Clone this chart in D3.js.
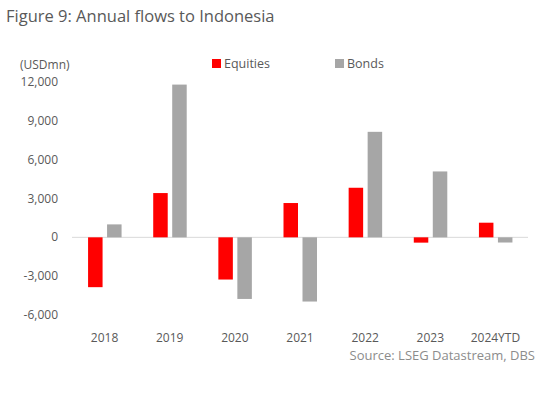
<!DOCTYPE html>
<html>
<head>
<meta charset="utf-8">
<script src="https://cdn.jsdelivr.net/npm/d3@7"></script>
<style>
  body { margin: 0; background: #fff; }
  text { font-family: "Open Sans", sans-serif; }
</style>
</head>
<body>
<svg id="chart" width="558" height="394"></svg>
<script>
const years = ["2018", "2019", "2020", "2021", "2022", "2023", "2024YTD"];
const equities = [-3850, 3420, -3260, 2650, 3830, -410, 1130];
const bonds = [1000, 11800, -4760, -4960, 8150, 5090, -400];
const yTicks = [-6000, -3000, 0, 3000, 6000, 9000, 12000];

const svg = d3.select("#chart");

const x = d3.scaleBand().domain(years).range([72, 528]);
const y = d3.scaleLinear().domain([-6000, 12000]).range([315, 82]);

const barW = 14.5;

// title
svg.append("text")
  .attr("x", 6)
  .attr("y", 22)
  .attr("font-size", "16.5px")
  .attr("fill", "#595959")
  .text("Figure 9: Annual flows to Indonesia");

svg.append("text")
  .attr("x", 20)
  .attr("y", 69)
  .attr("font-size", "12px")
  .attr("fill", "#595959")
  .text("(USDmn)");

// y tick labels
svg.selectAll(".ytick")
  .data(yTicks)
  .enter()
  .append("text")
  .attr("x", 58)
  .attr("y", (d) => y(d) + 4)
  .attr("text-anchor", "end")
  .attr("font-size", "12px")
  .attr("fill", "#595959")
  .text((d) => d3.format(",")(d).replace("−", "-"));

// zero line
svg.append("line")
  .attr("x1", 72)
  .attr("x2", 528)
  .attr("y1", y(0))
  .attr("y2", y(0))
  .attr("stroke", "#d9d9d9")
  .attr("stroke-width", 1);

const center = (d) => x(d) + x.bandwidth() / 2;

svg.selectAll(".eq")
  .data(years)
  .enter()
  .append("rect")
  .attr("x", (d) => center(d) - 2 - barW)
  .attr("y", (d, i) => y(Math.max(0, equities[i])))
  .attr("width", barW)
  .attr("height", (d, i) => Math.abs(y(equities[i]) - y(0)))
  .attr("fill", "#ff0000");

svg.selectAll(".bd")
  .data(years)
  .enter()
  .append("rect")
  .attr("x", (d) => center(d) + 2.5)
  .attr("y", (d, i) => y(Math.max(0, bonds[i])))
  .attr("width", barW)
  .attr("height", (d, i) => Math.abs(y(bonds[i]) - y(0)))
  .attr("fill", "#a6a6a6");

// x labels
svg.selectAll(".xlab")
  .data(years)
  .enter()
  .append("text")
  .attr("x", (d) => center(d))
  .attr("y", 342)
  .attr("text-anchor", "middle")
  .attr("font-size", "12px")
  .attr("fill", "#595959")
  .text((d) => d);

// legend
const legend = [
  { name: "Equities", color: "#ff0000", x: 212 },
  { name: "Bonds", color: "#a6a6a6", x: 335 },
];

const lg = svg.selectAll(".legend")
  .data(legend)
  .enter()
  .append("g")
  .attr("transform", (d) => `translate(${d.x}, 59)`);

lg.append("rect")
  .attr("width", 9)
  .attr("height", 9)
  .attr("fill", (d) => d.color);

lg.append("text")
  .attr("x", 12)
  .attr("y", 9)
  .attr("font-size", "12.5px")
  .attr("fill", "#595959")
  .text((d) => d.name);

// source
svg.append("text")
  .attr("x", 535)
  .attr("y", 360)
  .attr("text-anchor", "end")
  .attr("font-size", "13px")
  .attr("fill", "#8c8c8c")
  .text("Source: LSEG Datastream, DBS");
</script>
</body>
</html>
